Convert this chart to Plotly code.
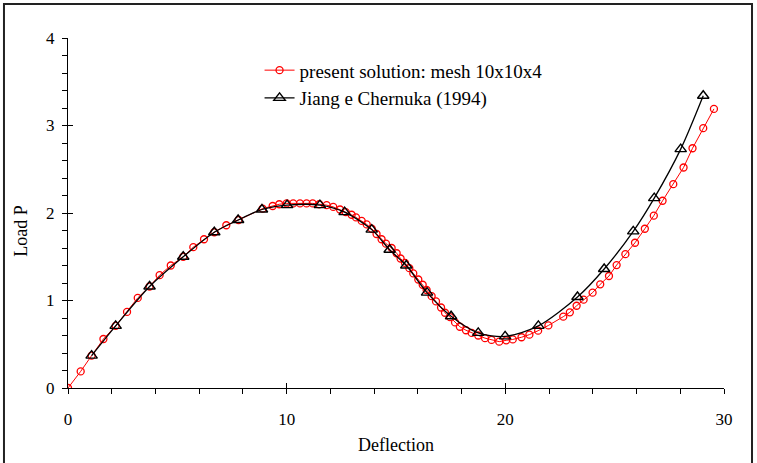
import plotly.graph_objects as go

# present solution: mesh 10x10x4 (red circles)
red_x = [0.0, 0.58, 1.08, 1.62, 2.18, 2.70, 3.19, 3.73, 4.19, 4.70, 5.27, 5.73, 6.22, 6.69, 7.24, 7.80,
         8.90, 9.36, 9.66, 10.00, 10.30, 10.61, 10.91, 11.19, 11.49, 11.83, 12.13, 12.44, 12.70, 12.97,
         13.17, 13.43, 13.66, 13.89, 14.11, 14.34, 14.54, 14.80, 15.03, 15.21, 15.41, 15.61, 15.79,
         16.02, 16.22, 16.40, 16.63, 16.83, 17.06, 17.24, 17.47, 17.70, 17.92, 18.20, 18.46, 18.76,
         19.07, 19.37, 19.72, 20.04, 20.34, 20.74, 21.10, 21.50, 21.97, 22.65, 22.95, 23.26, 23.58,
         23.99, 24.34, 24.74, 25.09, 25.49, 25.93, 26.38, 26.79, 27.19, 27.68, 28.15, 28.56, 29.05, 29.54]
red_y = [0.0, 0.19, 0.37, 0.56, 0.71, 0.87, 1.03, 1.16, 1.29, 1.40, 1.50, 1.61, 1.70, 1.78, 1.86, 1.92,
         2.05, 2.08, 2.10, 2.11, 2.11, 2.11, 2.11, 2.11, 2.10, 2.09, 2.07, 2.04, 2.01, 1.98,
         1.95, 1.91, 1.87, 1.82, 1.76, 1.70, 1.65, 1.60, 1.54, 1.48, 1.43, 1.37, 1.31,
         1.24, 1.18, 1.12, 1.05, 0.99, 0.92, 0.86, 0.81, 0.75, 0.70, 0.66, 0.63, 0.60,
         0.57, 0.55, 0.53, 0.545, 0.555, 0.58, 0.61, 0.655, 0.715, 0.815, 0.865, 0.94, 1.01,
         1.09, 1.185, 1.28, 1.405, 1.53, 1.66, 1.82, 1.97, 2.14, 2.33, 2.52, 2.74, 2.97, 3.19]

# Jiang e Chernuka (1994) (black triangles)
ref_x = [1.08, 2.18, 3.73, 5.27, 6.69, 7.78, 8.87, 10.02, 11.52, 12.65, 13.89, 14.71, 15.47, 16.42,
         17.52, 18.76, 19.99, 21.51, 23.30, 24.52, 25.85, 26.81, 28.02, 29.05]
ref_y = [0.37, 0.71, 1.16, 1.50, 1.78, 1.92, 2.04, 2.09, 2.09, 2.01, 1.81, 1.58, 1.40, 1.09,
         0.82, 0.63, 0.59, 0.71, 1.04, 1.36, 1.79, 2.17, 2.73, 3.34]

x_ticks = [0, 10, 20, 30]
y_ticks = [0, 1, 2, 3, 4]

FONT = "Liberation Serif, Times New Roman, serif"

fig = go.Figure()
fig.add_trace(go.Scatter(
    x=red_x, y=red_y, mode="lines+markers",
    name="present solution: mesh 10x10x4",
    line=dict(color="#FF0000", width=1),
    marker=dict(symbol="circle-open", size=7, color="#FF0000", line=dict(width=1.3, color="#FF0000")),
))
fig.add_trace(go.Scatter(
    x=ref_x, y=ref_y, mode="lines+markers",
    name="Jiang e Chernuka (1994)",
    line=dict(color="#000000", width=1.3, shape="spline", smoothing=0.8),
    marker=dict(symbol="triangle-up-open", size=10, color="#000000", line=dict(width=1.4, color="#000000")),
))
# dummy trace for overlay axes (inner half of crossing major ticks)
fig.add_trace(go.Scatter(x=[None], y=[None], xaxis="x2", yaxis="y2", showlegend=False, hoverinfo="skip"))

axis_common = dict(showgrid=False, zeroline=False)
fig.update_layout(
    width=757, height=463,
    margin=dict(l=68, r=33, t=38, b=75),
    paper_bgcolor="white", plot_bgcolor="white",
    font=dict(family=FONT, size=17, color="#000"),
    showlegend=True,
    legend=dict(x=0.292, y=0.962, xanchor="left", yanchor="top",
                bgcolor="rgba(0,0,0,0)", font=dict(family=FONT, size=19, color="#000")),
    xaxis=dict(range=[0, 30], tickvals=x_ticks, ticktext=[str(v) for v in x_ticks],
               showline=True, linecolor="#000", linewidth=1,
               ticks="outside", ticklen=5, tickcolor="#000", tickwidth=1,
               minor=dict(ticks="outside", ticklen=5, dtick=2, tickcolor="#000", tickwidth=1),
               ticklabelstandoff=11, tickfont=dict(size=17), **axis_common),
    yaxis=dict(range=[0, 4], tickvals=y_ticks, ticktext=[str(v) for v in y_ticks],
               showline=True, linecolor="#000", linewidth=1,
               ticks="outside", ticklen=5, tickcolor="#000", tickwidth=1,
               minor=dict(ticks="outside", ticklen=5, dtick=0.2, tickcolor="#000", tickwidth=1),
               ticklabelstandoff=4, tickfont=dict(size=17), **axis_common),
    xaxis2=dict(range=[0, 30], overlaying="x", anchor="y", side="bottom", tickvals=x_ticks,
                showticklabels=False, showline=False, ticks="inside", ticklen=5,
                tickcolor="#000", tickwidth=1, **axis_common),
    yaxis2=dict(range=[0, 4], overlaying="y", anchor="x", side="left", tickvals=y_ticks,
                showticklabels=False, showline=False, ticks="inside", ticklen=5,
                tickcolor="#000", tickwidth=1, **axis_common),
)

fig.add_annotation(text="Deflection", xref="paper", yref="paper", x=0.5, y=-0.163,
                   showarrow=False, font=dict(family=FONT, size=18), xanchor="center", yanchor="middle")
fig.add_annotation(text="Load P", xref="paper", yref="paper", x=-0.0709, y=0.451, textangle=-90,
                   showarrow=False, font=dict(family=FONT, size=18), xanchor="center", yanchor="middle")

# outer chart frame (bottom edge cropped off in the reference)
fig.add_shape(type="rect", xref="paper", yref="paper", x0=-0.0976, x1=1.0427, y0=-0.25, y1=1.097,
              line=dict(color="#222", width=2), fillcolor="rgba(0,0,0,0)", layer="above")

fig.write_html("out.html", config={"displayModeBar": False},
               post_script="document.body.style.margin='0px';")
